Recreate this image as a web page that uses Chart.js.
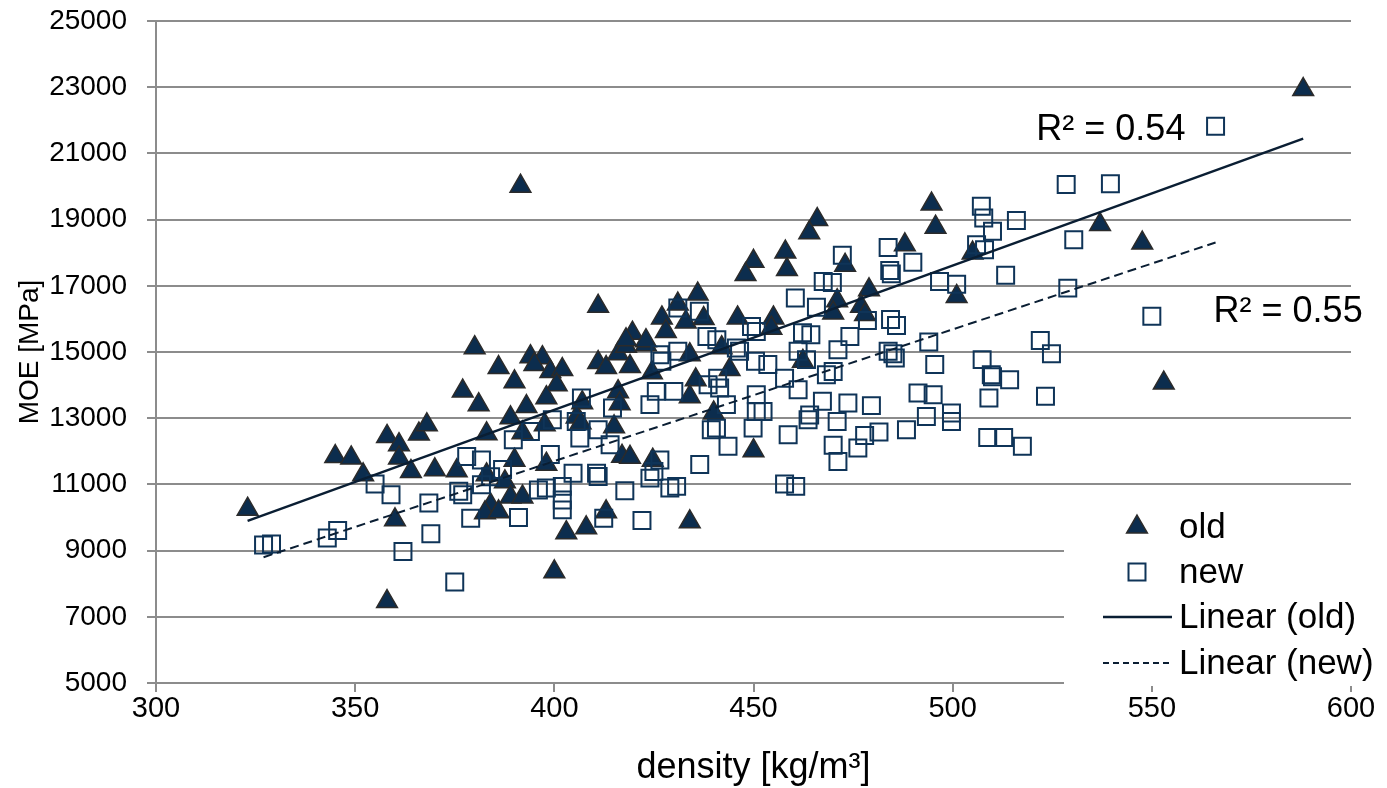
<!DOCTYPE html>
<html>
<head>
<meta charset="utf-8">
<title>MOE vs density</title>
<script src="https://cdn.jsdelivr.net/npm/chart.js@4.4.1/dist/chart.umd.min.js"></script>
<style>
  html, body { margin: 0; padding: 0; background: #fff; }
</style>
</head>
<body>
<canvas id="moeChart" width="1387" height="788"></canvas>
<script>
// values
var oldDensity = [323, 345, 349, 352, 358, 358, 360, 361, 361, 364, 366, 368, 370, 375.5, 377,
  380, 394, 397, 386, 395, 399, 402, 411, 413, 416, 419, 418, 423, 424.5, 434,
  442, 444, 435.5, 434, 390, 400.6, 381, 398, 393, 407, 416, 416.4, 405.6, 406.6, 389,
  397.6, 415, 383, 392, 440, 450, 390, 398, 417, 419, 424.7, 383, 387.6, 389, 392,
  384, 382.6, 386, 413, 403, 408, 434, 400, 391.5, 450, 448, 411, 436, 431, 427,
  446, 433, 437.5, 428, 419.6, 423, 418, 466, 464, 458, 458.4, 494.7, 495.7, 488, 473,
  505, 501, 479, 471, 470, 477, 478, 455, 454.5, 462.4, 588, 537, 547.6, 553];
var oldMoe = [10250, 11840, 11800, 11290, 12450, 7460, 9930, 12200, 11800, 11390, 12520, 12800, 11440, 11410, 13820,
  15130, 14860, 14830, 14530, 14620, 14410, 14470, 14680, 14530, 14950, 14560, 15170, 15220, 14370, 14920,
  15130, 14470, 14160, 13650, 14100, 14010, 13410, 13620, 13350, 13470, 13800, 13440, 13040, 12860, 13010,
  12800, 12740, 12530, 12560, 13160, 12020, 11730, 11610, 11850, 11820, 11730, 11290, 11080, 10620, 10620,
  10380, 10140, 10170, 10170, 9540, 9690, 9870, 8360, 20010, 17740, 17340, 16380, 16750, 16450, 16030,
  16030, 15910, 16010, 15620, 15570, 15340, 15370, 19000, 18600, 18020, 17490, 19470, 18770, 18240, 17620,
  17990, 16680, 16880, 16550, 16180, 16380, 16130, 16030, 15720, 14720, 22930, 18850, 18290, 14060];

var newDensity = [327, 329, 343, 345.6, 355, 359, 362, 368.5, 369, 375, 376, 427, 431, 430, 425.6,
  424, 414.6, 406.8, 405.5, 406.4, 411, 399.5, 394, 389.7, 399, 378, 381.7, 404.7, 410.6, 411,
  396, 398, 402, 402, 402, 377, 381.7, 417.7, 379, 391, 412.4, 422, 424, 425, 426.5,
  429, 430.7, 436.5, 443.6, 439.4, 440.7, 449.9, 450.7, 450.7, 441.5, 438.6, 443.2, 441, 450.5, 446.5,
  453.6, 457.8, 461.2, 461.2, 463.3, 468.3, 470, 471.2, 452.4, 458.7, 463.7, 464.1, 467.3, 471, 473.7,
  479.6, 477.9, 481.5, 470, 471.2, 476.2, 457.8, 460.6, 483.8, 485.6, 494, 495.5, 488.4, 491.3, 493.4,
  495.1, 499.7, 499.7, 507.4, 509.7, 514.3, 509.1, 523.3, 508.8, 512.8, 517.5, 524.8, 522, 507.2, 507.8,
  510, 516, 506, 508, 513.3, 496.7, 501, 483.8, 484.2, 484.6, 490, 472.3, 467.5, 469.8, 460.5,
  465.8, 478.6, 484.4, 485.9, 462.3, 464.4, 474.2, 450.7, 431, 436.4, 438.3, 440.8, 449.5, 445.7, 426.5,
  566, 528.5, 539.6, 530.4, 528.9, 550, 384, 387, 414, 510, 485];
var newMoe = [9170, 9200, 9380, 9610, 11010, 10690, 8970, 10435, 9510, 8050, 10790, 14720, 15020, 13810, 13810,
  13410, 13310, 13610, 12900, 12400, 12650, 12950, 12600, 12350, 11900, 11840, 11740, 11340, 11340, 11240,
  10830, 10890, 10940, 10530, 10230, 10690, 10990, 10810, 9980, 10000, 9980, 9910, 11190, 11390, 11740,
  10890, 10940, 11600, 12150, 12650, 12700, 12700, 13200, 13710, 13910, 14010, 13410, 14210, 14720, 15020,
  14620, 14210, 13860, 15020, 14770, 14310, 14410, 15070, 13200, 12500, 12950, 13100, 13510, 12900, 13460,
  13380, 12480, 12580, 12180, 11690, 12100, 11010, 10940, 15020, 14820, 15300, 14620, 12650, 13760, 13050,
  13710, 13160, 12900, 14770, 14310, 14160, 13610, 13660, 12420, 12420, 12150, 14950, 15350, 19400, 19050,
  18650, 18970, 18240, 18090, 17320, 17130, 17050, 18160, 17460, 17360, 17710, 17920, 17130, 17100, 16630,
  16350, 15950, 15980, 15800, 15580, 15520, 15470, 15620, 16330, 16230, 15470, 15370, 15770, 15120, 14920,
  21820, 20060, 20080, 18390, 16930, 16080, 11230, 11450, 12200, 14250, 14950];

var xTicks = [300, 350, 400, 450, 500, 550, 600];
var yTicks = [5000, 7000, 9000, 11000, 13000, 15000, 17000, 19000, 21000, 23000, 25000];
var seriesNames = ['old', 'new', 'Linear (old)', 'Linear (new)'];
var r2Labels = ['R² = 0.54', 'R² = 0.55'];

var FONT = "'Liberation Sans', Arial, sans-serif";
var navy = '#0c2d4e';
var squareColor = '#0f3458';
var lineColor = '#0a1e33';
var gridColor = '#8c8c8c';

function toPoints(xs, ys) {
  var pts = [];
  for (var i = 0; i < xs.length; i++) {
    pts.push({x: xs[i], y: ys[i]});
  }
  return pts;
}

// least squares line over the range of the series
function trend(xs, ys) {
  var n = xs.length, sx = 0, sy = 0, sxx = 0, sxy = 0;
  for (var i = 0; i < n; i++) {
    sx += xs[i]; sy += ys[i];
    sxx += xs[i] * xs[i]; sxy += xs[i] * ys[i];
  }
  var b = (n * sxy - sx * sy) / (n * sxx - sx * sx);
  var a = (sy - b * sx) / n;
  var lo = Math.min.apply(null, xs), hi = Math.max.apply(null, xs);
  return [{x: lo, y: a + b * lo}, {x: hi, y: a + b * hi}];
}

// legend box + R² labels, drawn over the plot like the original
var overlay = {
  id: 'overlay',
  afterDraw: function(chart) {
    var ctx = chart.ctx;
    var xs = chart.scales.x, ys = chart.scales.y;
    ctx.save();

    ctx.fillStyle = '#fff';
    ctx.fillRect(1064, 494, 323, 192);

    var mx = 1137, tx = 1179;
    var rows = [527, 572, 617, 663];
    ctx.font = '35px ' + FONT;
    ctx.textBaseline = 'middle';
    ctx.textAlign = 'left';

    ctx.fillStyle = navy;
    ctx.strokeStyle = '#2b2b2b';
    ctx.lineWidth = 1.5;
    Chart.helpers.drawPoint(ctx, {pointStyle: 'triangle', radius: 12, borderWidth: 1.5, rotation: 0}, mx, rows[0]);

    ctx.fillStyle = 'rgba(0,0,0,0)';
    ctx.strokeStyle = squareColor;
    ctx.lineWidth = 2;
    Chart.helpers.drawPoint(ctx, {pointStyle: 'rect', radius: 12, borderWidth: 2, rotation: 0}, mx, rows[1]);

    ctx.strokeStyle = lineColor;
    ctx.lineWidth = 2.5;
    ctx.beginPath();
    ctx.moveTo(1103, rows[2]); ctx.lineTo(1172, rows[2]);
    ctx.stroke();
    ctx.lineWidth = 2;
    ctx.setLineDash([6, 4]);
    ctx.beginPath();
    ctx.moveTo(1103, rows[3]); ctx.lineTo(1172, rows[3]);
    ctx.stroke();
    ctx.setLineDash([]);

    ctx.fillStyle = '#000';
    for (var i = 0; i < seriesNames.length; i++) {
      ctx.fillText(seriesNames[i], tx, rows[i] + 1);
    }

    // R² labels next to the trend lines
    ctx.font = '36px ' + FONT;
    ctx.textBaseline = 'alphabetic';
    ctx.fillText(r2Labels[0], xs.getPixelForValue(521), ys.getPixelForValue(21400));
    ctx.fillText(r2Labels[1], xs.getPixelForValue(565.5), ys.getPixelForValue(15900));

    ctx.restore();
  }
};

var config = {
  type: 'scatter',
  data: {
    datasets: [{
      label: seriesNames[0],
      data: toPoints(oldDensity, oldMoe),
      pointStyle: 'triangle',
      pointRadius: 12,
      backgroundColor: navy,
      borderColor: '#2b2b2b',
      borderWidth: 1.5,
      order: 3
    }, {
      label: seriesNames[1],
      data: toPoints(newDensity, newMoe),
      pointStyle: 'rect',
      pointRadius: 12,
      backgroundColor: 'rgba(0,0,0,0)',
      borderColor: squareColor,
      borderWidth: 2,
      order: 2
    }, {
      label: seriesNames[2],
      data: trend(oldDensity, oldMoe),
      showLine: true,
      pointRadius: 0,
      borderColor: lineColor,
      borderWidth: 2.5,
      order: 1
    }, {
      label: seriesNames[3],
      data: trend(newDensity, newMoe),
      showLine: true,
      pointRadius: 0,
      borderColor: lineColor,
      borderWidth: 2,
      borderDash: [9, 5],
      order: 0
    }]
  },
  options: {
    responsive: false,
    animation: false,
    devicePixelRatio: 1,
    layout: { padding: { top: 21, right: 36, bottom: 0, left: 0 } },
    plugins: {
      legend: { display: false },
      tooltip: { enabled: false }
    },
    scales: {
      x: {
        type: 'linear',
        min: 300,
        max: 600,
        afterBuildTicks: function(scale) {
          scale.ticks = xTicks.map(function(v) { return {value: v}; });
        },
        afterFit: function(scale) { scale.height = 105; },
        ticks: {
          color: '#000',
          font: { family: FONT, size: 29 },
          padding: 0,
          maxRotation: 0,
          callback: function(v) { return String(v); }
        },
        grid: { drawOnChartArea: false, drawTicks: true, tickLength: 9, color: gridColor, lineWidth: 2 },
        border: { color: gridColor, width: 2 },
        title: {
          display: true,
          text: 'density [kg/m³]',
          color: '#000',
          font: { family: FONT, size: 36, lineHeight: 1 },
          padding: { top: 0, bottom: 2 }
        }
      },
      y: {
        type: 'linear',
        min: 5000,
        max: 25000,
        afterBuildTicks: function(scale) {
          scale.ticks = yTicks.map(function(v) { return {value: v}; });
        },
        afterFit: function(scale) {
          scale.width = 156;
          // labels may hang over the top edge, like the original
          scale.paddingTop = 0;
          scale.paddingBottom = 0;
        },
        ticks: {
          color: '#000',
          font: { family: FONT, size: 28 },
          padding: 20,
          callback: function(v) { return String(v); }
        },
        grid: { drawTicks: true, tickLength: 9, color: gridColor, lineWidth: 2 },
        border: { color: gridColor, width: 2 },
        title: {
          display: true,
          text: 'MOE [MPa]',
          color: '#000',
          font: { family: FONT, size: 28, lineHeight: 1 },
          padding: { top: 16, bottom: 0 }
        }
      }
    }
  },
  plugins: [overlay]
};

var moeChart = new Chart(document.getElementById('moeChart'), config);
</script>
</body>
</html>
